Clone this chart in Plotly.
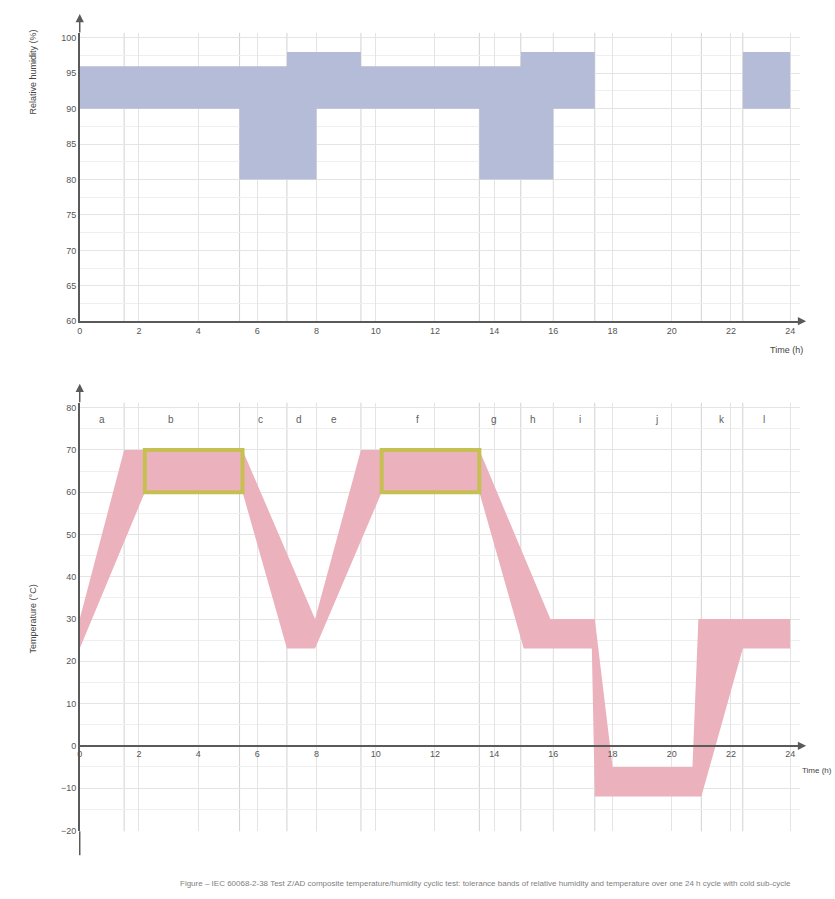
import plotly.graph_objects as go

W, H = 835, 899

# ---------------- data ----------------
# Relative humidity (top): segment boundaries (h) and band limits (%)
rh_breaks = [0, 5.4, 7.0, 8.0, 9.5, 13.5, 14.9, 16.0, 17.4]
rh_upper = [96, 96, 98, 98, 96, 96, 98, 98]
rh_lower = [90, 80, 80, 90, 90, 80, 80, 90]
rh_tail_breaks = [22.4, 24]
rh_tail_upper = [98]
rh_tail_lower = [90]

# Temperature (bottom): tolerance envelope
temp_upper_t = [0, 1.5, 5.5, 7.95, 9.5, 13.5, 15.9, 17.4, 18.0, 20.7, 20.9, 24]
temp_upper_v = [30, 70, 70, 30, 70, 70, 30, 30, -5, -5, 30, 30]
temp_lower_t = [0, 2.2, 5.5, 7.0, 7.95, 10.2, 13.5, 15.0, 17.3, 17.4, 21.0, 22.4, 24]
temp_lower_v = [23, 60, 60, 23, 23, 60, 60, 23, 23, -12, -12, 23, 23]

# High-temperature hold windows (yellow boxes)
hold_start = [2.2, 10.2]
hold_end = [5.5, 13.5]
hold_low = [60, 60]
hold_high = [70, 70]

# Step boundaries (vertical lines) and step labels
step_lines = [1.5, 5.4, 7.0, 8.0, 9.5, 13.5, 14.9, 16.0, 17.4, 21.0, 22.4]
step_label_t = [0.75, 3.1, 6.1, 7.4, 8.6, 11.4, 14.0, 15.3, 16.9, 19.5, 21.7, 23.1]
step_label_txt = ["a", "b", "c", "d", "e", "f", "g", "h", "i", "j", "k", "l"]

x_ticks = list(range(0, 25, 2))
rh_ticks = [60, 65, 70, 75, 80, 85, 90, 95, 100]
temp_ticks = [-20, -10, 0, 10, 20, 30, 40, 50, 60, 70, 80]

# ---------------- geometry helpers ----------------
def px_x(p):
    return p / W

def px_y(p):
    return 1 - p / H

X0, X1 = 77, 800
PX_PER_H = (790 - 77) / 24.0
x_range = [0, (X1 - X0) / PX_PER_H]

TOP_T, TOP_B = 33, 323
RH_PX = (323 - 38) / 40.0
rh_range = [60, 60 + (TOP_B - TOP_T) / RH_PX]

BOT_T, BOT_B = 405, 836
ZERO_PX = 750
T_PX = (750 - 410) / 80.0
temp_range = [(ZERO_PX - BOT_B) / T_PX, (ZERO_PX - BOT_T) / T_PX]

FONT = "Liberation Sans, Arial, sans-serif"
AXC = "#5a5a5a"
GRID = "#e4e4e4"
EVT = "#d2d2d2"
BLUE = "#b5bcd7"
PINK = "#ebb1bc"
YEL = "#c6c052"


def step_polygon(breaks, upper, lower):
    xs, ys = [], []
    for i, u in enumerate(upper):
        xs += [breaks[i], breaks[i + 1]]
        ys += [u, u]
    for i in range(len(lower) - 1, -1, -1):
        xs += [breaks[i + 1], breaks[i]]
        ys += [lower[i], lower[i]]
    xs.append(xs[0])
    ys.append(ys[0])
    return xs, ys


fig = go.Figure()

rx, ry = step_polygon(rh_breaks, rh_upper, rh_lower)
fig.add_trace(go.Scatter(x=rx, y=ry, fill="toself", fillcolor=BLUE, mode="lines",
                         line=dict(width=0, color=BLUE), xaxis="x", yaxis="y",
                         hoverinfo="skip", showlegend=False))
tx, ty = step_polygon(rh_tail_breaks, rh_tail_upper, rh_tail_lower)
fig.add_trace(go.Scatter(x=tx, y=ty, fill="toself", fillcolor=BLUE, mode="lines",
                         line=dict(width=0, color=BLUE), xaxis="x", yaxis="y",
                         hoverinfo="skip", showlegend=False))

px_ = temp_upper_t + temp_lower_t[::-1] + [temp_upper_t[0]]
py_ = temp_upper_v + temp_lower_v[::-1] + [temp_upper_v[0]]
fig.add_trace(go.Scatter(x=px_, y=py_, fill="toself", fillcolor=PINK, mode="lines",
                         line=dict(width=0, color=PINK), xaxis="x2", yaxis="y2",
                         hoverinfo="skip", showlegend=False))

shapes = []
for t in step_lines:
    shapes.append(dict(type="line", xref="x", yref="y domain", x0=t, x1=t, y0=0, y1=1,
                       line=dict(color=EVT, width=1), layer="below"))
    shapes.append(dict(type="line", xref="x2", yref="y2 domain", x0=t, x1=t, y0=0, y1=1,
                       line=dict(color=EVT, width=1), layer="below"))
for s, e, lo, hi in zip(hold_start, hold_end, hold_low, hold_high):
    shapes.append(dict(type="rect", xref="x2", yref="y2", x0=s, x1=e, y0=lo, y1=hi,
                       line=dict(color=YEL, width=4), fillcolor="rgba(0,0,0,0)", layer="above"))
# y-axis extension below bottom plot
shapes.append(dict(type="line", xref="paper", yref="paper", x0=px_x(X0), x1=px_x(X0),
                   y0=px_y(BOT_B), y1=px_y(860), line=dict(color=AXC, width=1.5)))

annotations = []

def arrow(tip_x, tip_y, dx, dy):
    annotations.append(dict(x=px_x(tip_x), y=px_y(tip_y), xref="paper", yref="paper",
                            ax=dx, ay=dy, axref="pixel", ayref="pixel", text="",
                            showarrow=True, arrowhead=2, arrowsize=1.1, arrowwidth=1.5,
                            arrowcolor=AXC))

arrow(X0, 14, 0, 20)
arrow(806, TOP_B, -8, 0)
arrow(X0, 386, 0, 20)
arrow(806, ZERO_PX, -8, 0)

for t, s in zip(step_label_t, step_label_txt):
    annotations.append(dict(x=t, y=77.2, xref="x2", yref="y2", text=s, showarrow=False,
                            font=dict(family=FONT, size=10, color="#5e5e5e")))

annotations += [
    dict(x=px_x(30), y=px_y(72), xref="paper", yref="paper", text="Relative humidity (%)",
         textangle=-90, xanchor="center", yanchor="middle", showarrow=False,
         font=dict(family=FONT, size=9, color="#444444")),
    dict(x=px_x(30), y=px_y(622), xref="paper", yref="paper", text="Temperature (°C)",
         textangle=-90, xanchor="center", yanchor="middle", showarrow=False,
         font=dict(family=FONT, size=9, color="#444444")),
    dict(x=px_x(786), y=px_y(352), xref="paper", yref="paper", text="Time (h)",
         xanchor="center", yanchor="middle", showarrow=False,
         font=dict(family=FONT, size=9, color="#444444")),
    dict(x=px_x(834), y=px_y(775), xref="paper", yref="paper", text="Time (h)",
         xanchor="right", yanchor="middle", showarrow=False,
         font=dict(family=FONT, size=8, color="#444444")),
    dict(x=px_x(484), y=px_y(888), xref="paper", yref="paper",
         text=("Figure – IEC 60068-2-38 Test Z/AD composite temperature/humidity cyclic test: "
               "tolerance bands of relative humidity and temperature over one 24 h cycle "
               "with cold sub-cycle"),
         xanchor="center", yanchor="middle", showarrow=False,
         font=dict(family=FONT, size=8, color="#808080")),
]

axis_common = dict(showline=True, linecolor=AXC, linewidth=1.5, ticks="", zeroline=False,
                   tickfont=dict(family=FONT, size=9, color="#555555"), gridcolor=GRID,
                   gridwidth=1)

fig.update_layout(
    width=W, height=H, margin=dict(l=0, r=0, t=0, b=0),
    paper_bgcolor="white", plot_bgcolor="white", showlegend=False,
    xaxis=dict(domain=[px_x(X0), px_x(X1)], range=x_range, anchor="y",
               tickvals=x_ticks, showgrid=True, **axis_common),
    yaxis=dict(domain=[px_y(TOP_B), px_y(TOP_T)], range=rh_range, anchor="x",
               tickvals=rh_ticks, showgrid=True,
               minor=dict(dtick=2.5, tick0=60, showgrid=True, gridcolor="#efefef"),
               **axis_common),
    xaxis2=dict(domain=[px_x(X0), px_x(X1)], range=x_range, anchor="free",
                position=px_y(ZERO_PX), tickvals=x_ticks, showgrid=True, **axis_common),
    yaxis2=dict(domain=[px_y(BOT_B), px_y(BOT_T)], range=temp_range, anchor="x2",
                tickvals=temp_ticks, showgrid=True,
                minor=dict(dtick=5, tick0=0, showgrid=True, gridcolor="#efefef"),
                **axis_common),
    shapes=shapes, annotations=annotations,
)

fig.write_html("out.html", config={"displayModeBar": False},
               post_script="document.body.style.margin='0';document.body.style.overflow='hidden';")
